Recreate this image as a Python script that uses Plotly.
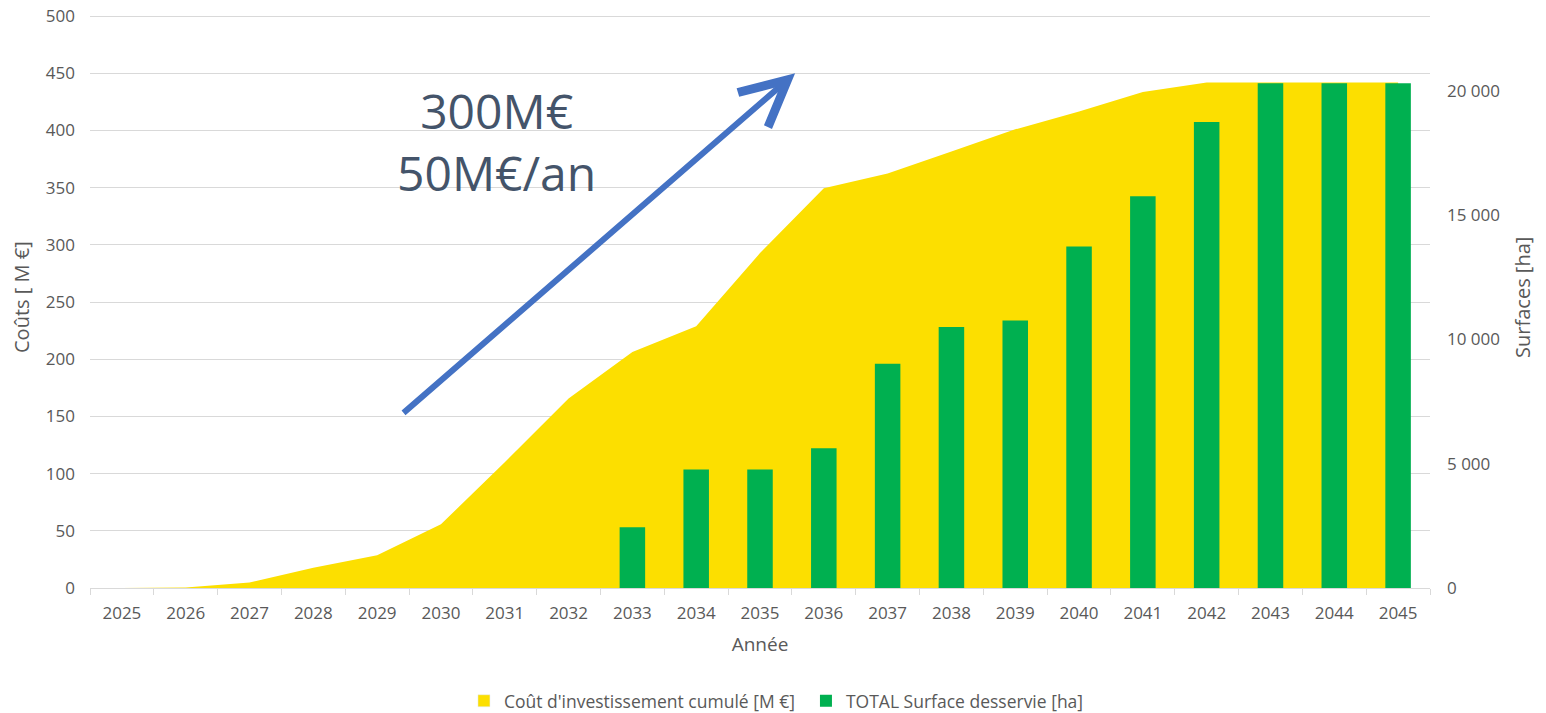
import plotly.graph_objects as go

years = [str(y) for y in range(2025, 2046)]
cout_cumule = [0, 0.5, 4.7, 17.8, 28.6, 55.7, 110, 165.6, 206.3, 228.8, 292.8,
               349.6, 362.5, 381.7, 401, 416.7, 433.6, 442, 442, 442, 442]
surface = [0, 0, 0, 0, 0, 0, 0, 0, 2440, 4770, 4770,
           5620, 9020, 10500, 10760, 13740, 15760, 18740, 20300, 20300, 20300]

y1_ticks = list(range(0, 501, 50))
y2_ticks = [0, 5000, 10000, 15000, 20000]
y1_max = 501
y2_max = 23000 * y1_max / 500

arrow_from = (4.39, 152)
arrow_to = (10.55, 450)
label_text = "300M€<br>50M€/an"
y1_title = "Coûts [ M €]"
y2_title = "Surfaces [ha]"

YELLOW = "#FCDF00"
GREEN = "#00B050"
TXT = "#595959"
GRID = "#D9D9D9"
FONT = "Open Sans"

fig = go.Figure()
fig.add_trace(go.Scatter(
    x=years, y=cout_cumule, name="Coût d'investissement cumulé [M €]",
    mode="none", fill="tozeroy", fillcolor=YELLOW, yaxis="y", showlegend=False,
))
# legend entry (square swatch) for the area series
fig.add_trace(go.Bar(
    x=[None], y=[None], name="Coût d'investissement cumulé [M €]",
    marker=dict(color=YELLOW), yaxis="y2", showlegend=True,
))
fig.add_trace(go.Bar(
    x=years, y=surface, name="TOTAL Surface desservie [ha]",
    marker=dict(color=GREEN, line=dict(width=0)), width=0.4, yaxis="y2",
))

fig.update_layout(
    width=1546, height=713,
    margin=dict(l=90, r=116, t=15, b=125, autoexpand=False),
    paper_bgcolor="white", plot_bgcolor="white",
    separators=", ",
    font=dict(family=FONT, size=17, color=TXT),
    showlegend=True,
    barmode="overlay",
    legend=dict(orientation="h", xref="container", x=0.3001, xanchor="left",
                yref="paper", y=-0.197, yanchor="middle",
                font=dict(size=17.5, color=TXT), entrywidth=297,
                itemwidth=30, traceorder="normal"),
    xaxis=dict(type="category", automargin=False, showgrid=False, showline=True,
               linecolor=GRID, linewidth=1, ticks="outside", tickson="boundaries",
               ticklen=6, tickcolor=GRID, tickfont=dict(size=17, color=TXT),
               ticklabelstandoff=10,
               title=dict(text="Année", font=dict(size=19, color=TXT), standoff=14),
               range=[-0.5, 20.5]),
    yaxis=dict(range=[0, y1_max], automargin=False, tickvals=y1_ticks, showgrid=True,
               gridcolor=GRID, gridwidth=1, zeroline=False, showline=False, ticks="",
               ticklabelstandoff=14, ticklabeloverflow="allow",
               tickfont=dict(size=17, color=TXT)),
    yaxis2=dict(range=[0, y2_max], automargin=False, tickvals=y2_ticks, tickformat=",d",
                overlaying="y", side="right", showgrid=False, zeroline=False,
                showline=False, ticks="", ticklabelstandoff=16,
                ticklabeloverflow="allow",
                tickfont=dict(size=17, color=TXT)),
)

# axis titles
fig.add_annotation(x=-0.0507, y=0.508, xref="paper", yref="paper", text=y1_title,
                   textangle=-90, showarrow=False, xanchor="center", yanchor="middle",
                   font=dict(family=FONT, size=20, color=TXT))
fig.add_annotation(x=1.0694, y=0.508, xref="paper", yref="paper", text=y2_title,
                   textangle=-90, showarrow=False, xanchor="center", yanchor="middle",
                   font=dict(family=FONT, size=20, color=TXT))

fig.add_annotation(
    x=arrow_to[0], y=arrow_to[1], ax=arrow_from[0], ay=arrow_from[1],
    xref="x", yref="y", axref="x", ayref="y",
    showarrow=True, arrowhead=5, arrowwidth=6, arrowsize=1.5,
    arrowcolor="#4472C4", text="", standoff=0, startstandoff=0,
)
fig.add_annotation(
    x=5.87, y=390, xref="x", yref="y", text=label_text, showarrow=False,
    font=dict(family=FONT, size=48, color="#44546A"), align="center",
    xanchor="center", yanchor="middle",
)

fig.write_html("out.html", config={"displayModeBar": False},
               post_script="document.body.style.margin='0';")
